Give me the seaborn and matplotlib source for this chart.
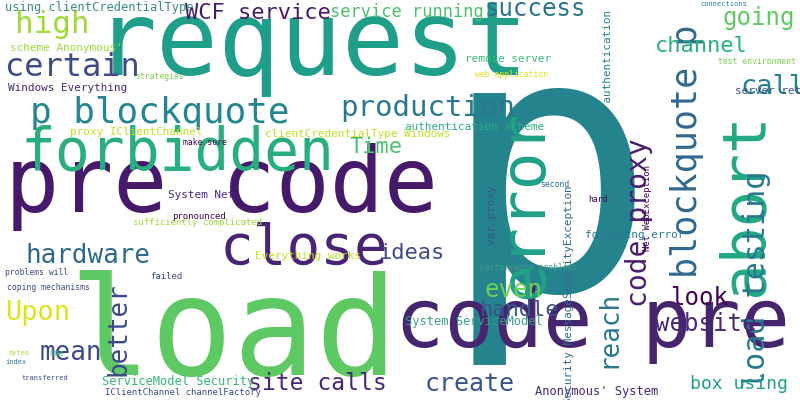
import matplotlib
matplotlib.use("Agg")
import matplotlib.pyplot as plt
import seaborn as sns

sns.set_style("white")
plt.rcParams['font.family'] = ['DejaVu Sans Mono']

# word cloud layout (pixel positions, top-left of box)
words = ["request", "p", "load", "pre code", "code pre", "error", "abort",
         "forbidden", "close", "blockquote p", "load testing", "p blockquote",
         "production", "certain", "high", "WCF service", "success",
         "service running", "going", "channel", "call", "code proxy", "Time",
         "ideas", "hardware", "even", "handle", "look", "website", "reach",
         "better", "Upon", "mean", "site calls", "create", "box using",
         "Anonymous' System", "ServiceModel Security", "System ServiceModel",
         "using clientCredentialType", "scheme Anonymous'", "Windows Everything",
         "remote server", "client authentication",
         "Security MessageSecurityException", "var proxy", "System Net",
         "Everything works", "performance problems", "authentication scheme",
         "clientCredentialType Windows", "proxy IClientChannel",
         "following error", "server returned", "Net WebException",
         "sufficiently complicated", "pronounced", "IClientChannel channelFactory",
         "problems will", "coping mechanisms", "make sure", "failed",
         "web application", "strategies", "test environment", "connections",
         "hard", "second", "transferred", "bytes", "One", "index"]
xs = [95, 440, 68, 5, 395, 495, 715, 20, 220, 670, 742, 30, 340, 5, 15, 185,
      485, 330, 722, 655, 740, 625, 350, 378, 26, 485, 480, 670, 655, 595,
      105, 5, 40, 248, 425, 690, 535, 102, 405, 5, 10, 8, 465, 603, 564, 487,
      168, 255, 480, 405, 265, 70, 585, 735, 643, 133, 172, 105, 5, 7, 183,
      150, 475, 135, 718, 700, 588, 540, 22, 8, 50, 5]
ys = [-5, 290, 270, 143, 285, 110, 112, 125, 222, 25, 170, 96, 94, 52, 10, 3,
      -3, 3, 6, 36, 74, 138, 137, 243, 243, 278, 300, 286, 312, 290, 282,
      300, 340, 372, 372, 375, 385, 375, 315, 1, 43, 83, 54, 10, 185, 185,
      190, 251, 263, 122, 129, 127, 230, 86, 165, 218, 212, 388, 268, 283,
      138, 272, 70, 72, 57, 1, 195, 180, 375, 350, 349, 359]
sizes = [103, 360, 137, 90, 82, 63, 61, 58, 56, 35, 30, 36, 29, 32, 31, 22,
         24, 17, 24, 22, 27, 28, 22, 22, 26, 24, 22, 24, 24, 26, 26, 27, 26,
         23, 25, 18, 12, 12, 12, 12, 11, 11, 11, 11, 11, 11, 11, 11, 8, 11, 11,
         11, 11, 11, 9, 9, 9, 9, 8, 8, 8, 9, 8, 8, 8, 7, 8, 8, 7, 7, 8, 7]
colors = ["#1f9e89", "#25838e", "#5ec962", "#46196b", "#46256f", "#1fa187",
          "#22a884", "#29af7f", "#482475", "#31688e", "#2a788e", "#24868e",
          "#2a788e", "#3e4a89", "#a0da39", "#46196b", "#2c728e", "#4ac16d",
          "#5ec962", "#29af7f", "#26828e", "#481f70", "#4ac16d", "#3e4a89",
          "#31688e", "#6ece58", "#3b528b", "#440154", "#482878", "#2a788e",
          "#3e4a89", "#dde318", "#3e4a89", "#482878", "#3b528b", "#1f9e89",
          "#482878", "#35b779", "#3b9c8a", "#3e8a89", "#a0da39", "#482878",
          "#3bba75", "#26828e", "#31688e", "#3b528b", "#482878", "#c2df23",
          "#3b9c8a", "#29af7f", "#c2df23", "#c2df23", "#2a788e", "#3b528b",
          "#440154", "#a0da39", "#440154", "#3e4a89", "#3e4a89", "#3e4a89",
          "#440154", "#3e4a89", "#e5e419", "#7ad151", "#7ad151", "#26828e",
          "#440154", "#31688e", "#3e4a89", "#a0da39", "#35b779", "#2a788e"]
rotated = [False, False, False, False, False, True, True, False, False, True,
           True, False, False, False, False, False, False, False, False, False,
           False, True, False, False, False, False, False, False, False, True,
           True, False, False, False, False, False, False, False, False, False,
           False, False, False, True, True, True, False, False, False, False,
           False, False, False, False, True, False, False, False, False, False,
           False, False, False, False, False, False, False, False, False, False,
           False, False]

fig = plt.figure(figsize=(8, 4), dpi=100)
ax = fig.add_axes([0, 0, 1, 1])
ax.set_xlim(0, 800)
ax.set_ylim(400, 0)
ax.axis("off")

for w, x, y, s, c, r in zip(words, xs, ys, sizes, colors, rotated):
    # the giant "p" is anchored on its baseline, the rest by their top edge
    va = "baseline" if w == "p" else "top"
    ax.text(x, y, w, fontsize=s * 0.72, color=c, ha="left", va=va,
            rotation=90 if r else 0, zorder=0 if w == "p" else 1)

fig.savefig("out.png", dpi=100, facecolor="white")
